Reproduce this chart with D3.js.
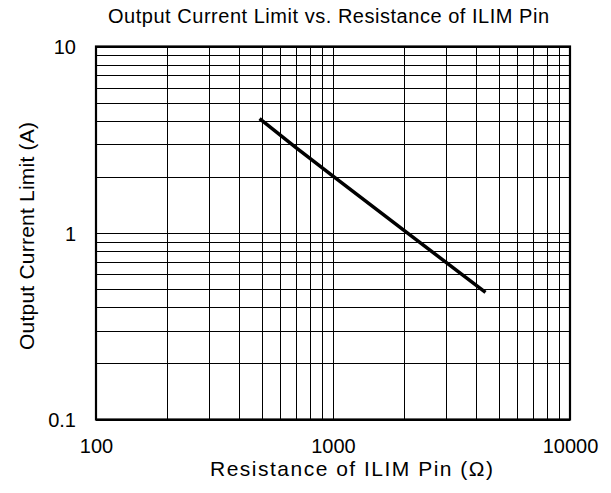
<!DOCTYPE html>
<html>
<head>
<meta charset="utf-8">
<script src="https://cdn.jsdelivr.net/npm/d3@7"></script>
<style>
  body { margin: 0; background: #fff; }
  text { font-family: "Liberation Sans", Arial, sans-serif; fill: #000; }
</style>
</head>
<body>
<div id="chart"></div>
<script>
// values
var resistance = [490, 700, 1000, 2000, 4400];   // ohm
var currentLimit = [4.1, 2.86, 2.02, 1.03, 0.48]; // A
var xTickLabels = [100, 1000, 10000];
var yTickLabels = [0.1, 1, 10];

var margin = {top: 46.5, right: 41, bottom: 73.5, left: 96},
    width = 611 - margin.left - margin.right,
    height = 493 - margin.top - margin.bottom;

var svg = d3.select("#chart")
  .append("svg")
  .attr("width", 611)
  .attr("height", 493);

var g = svg.append("g")
  .attr("transform", "translate(" + margin.left + "," + margin.top + ")");

var x = d3.scaleLog()
  .domain([100, 10000])
  .range([0, width]);

var y = d3.scaleLog()
  .domain([0.1, 10])
  .range([height, 0]);

// grid
g.append("g")
  .attr("class", "xgrid")
  .attr("transform", "translate(0," + height + ")")
  .call(d3.axisBottom(x).tickValues(x.ticks()).tickSize(-height).tickFormat(""))
  .call(function(s) { s.select(".domain").remove(); });

g.append("g")
  .attr("class", "ygrid")
  .call(d3.axisLeft(y).tickValues(y.ticks()).tickSize(-width).tickFormat(""))
  .call(function(s) { s.select(".domain").remove(); });

g.selectAll(".xgrid line, .ygrid line")
  .attr("stroke", "#000")
  .attr("stroke-width", 1)
  .attr("shape-rendering", "crispEdges");

// tick labels
var xAxis = g.append("g")
  .attr("transform", "translate(0," + height + ")")
  .call(d3.axisBottom(x).tickValues(xTickLabels).tickSize(0).tickFormat(d3.format("d")));
xAxis.select(".domain").remove();
xAxis.selectAll("text")
  .attr("y", 33)
  .attr("dy", null)
  .attr("font-size", "20px")
  .attr("font-family", null);

var yAxis = g.append("g")
  .call(d3.axisLeft(y).tickValues(yTickLabels).tickSize(0).tickFormat(function(d) { return d < 1 ? d3.format(".1f")(d) : d3.format("d")(d); }));
yAxis.select(".domain").remove();
yAxis.selectAll("text")
  .attr("x", -20)
  .attr("dy", "0.35em")
  .attr("font-size", "20px")
  .attr("font-family", null);

// frame
g.append("rect")
  .attr("width", width)
  .attr("height", height)
  .attr("fill", "none")
  .attr("stroke", "#000")
  .attr("stroke-width", 2.2);

// curve
var line = d3.line()
  .x(function(d) { return x(d[0]); })
  .y(function(d) { return y(d[1]); });

g.append("path")
  .datum(d3.zip(resistance, currentLimit))
  .attr("fill", "none")
  .attr("stroke", "#000")
  .attr("stroke-width", 3.5)
  .attr("d", line);

// titles
svg.append("text")
  .attr("x", 108)
  .attr("y", 23)
  .attr("font-size", "20px")
  .attr("textLength", 441)
  .attr("lengthAdjust", "spacing")
  .text("Output Current Limit vs. Resistance of ILIM Pin");

svg.append("text")
  .attr("x", 210)
  .attr("y", 476)
  .attr("font-size", "21px")
  .attr("textLength", 283)
  .attr("lengthAdjust", "spacing")
  .text("Resistance of ILIM Pin (Ω)");

svg.append("text")
  .attr("transform", "translate(34,350) rotate(-90)")
  .attr("font-size", "21px")
  .attr("textLength", 228)
  .attr("lengthAdjust", "spacing")
  .text("Output Current Limit (A)");
</script>
</body>
</html>
